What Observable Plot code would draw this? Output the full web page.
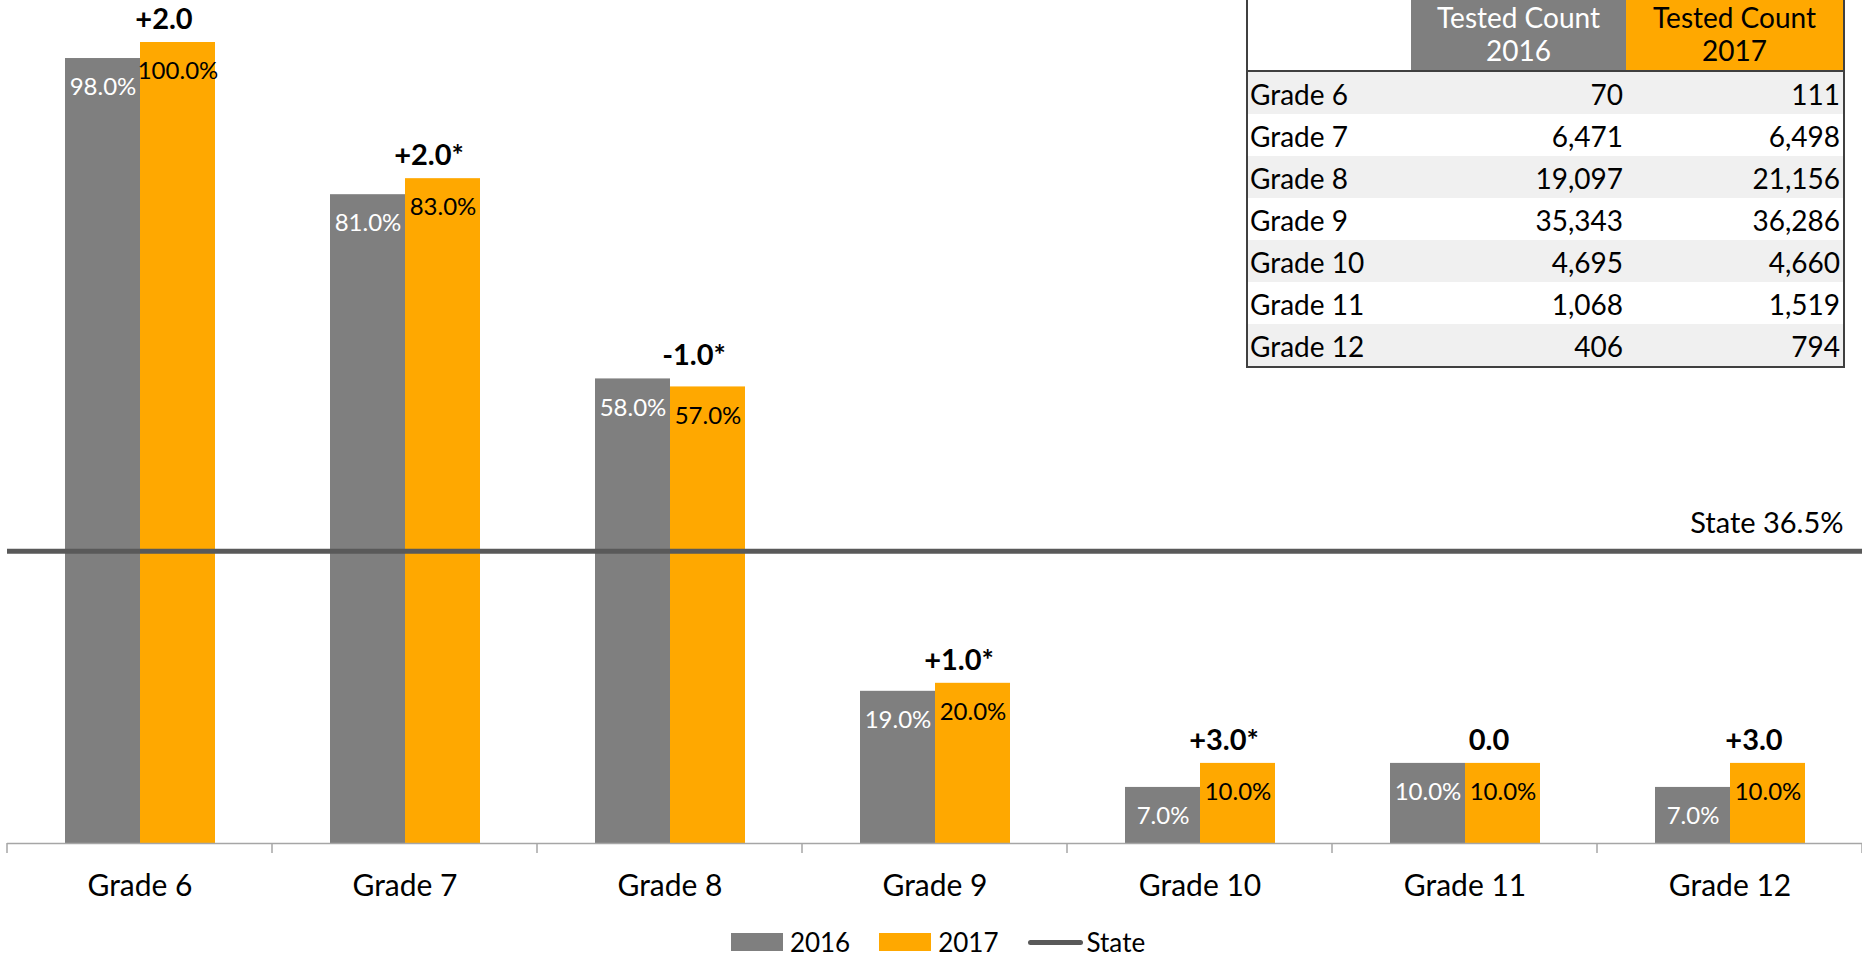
<!DOCTYPE html>
<html>
<head>
<meta charset="utf-8">
<script src="https://cdn.jsdelivr.net/npm/d3@7"></script>
<script src="https://cdn.jsdelivr.net/npm/@observablehq/plot@0.6"></script>
<style>
  html, body { margin: 0; padding: 0; background: #fff; }
  body { font-family: Lato, "Open Sans", sans-serif; color: #000; }
  #wrap { position: relative; width: 1862px; height: 960px; overflow: hidden; }
  #chart svg { display: block; }
  #tbl {
    position: absolute; left: 1246px; top: 0; width: 597px;
    border-collapse: collapse; table-layout: fixed;
    font-size: 28px; font-family: Lato, sans-serif;
    border-left: 2px solid #404040; border-right: 2px solid #404040; border-bottom: 2px solid #404040;
  }
  #tbl th { font-weight: normal; height: 71px; line-height: 33px; padding: 0 0 3px 0; vertical-align: middle; text-align: center; box-sizing: border-box; }
  #tbl tr.hd { border-bottom: 2px solid #404040; }
  #tbl th.h16 { background: #7f7f7f; color: #fff; }
  #tbl th.h17 { background: #ffa800; color: #000; }
  #tbl td { height: 42px; padding: 2px 0 0 0; line-height: 40px; vertical-align: top; white-space: nowrap; box-sizing: border-box; }
  #tbl td.lab { text-align: left; padding-left: 2px; }
  #tbl td.num { text-align: right; padding-right: 3px; }
  #tbl tr.stripe td { background: #f0f0f0; }
  #legend {
    position: absolute; top: 920px; left: 0; width: 1862px; height: 44px;
    display: flex; justify-content: center; align-items: center;
    font-size: 26px; font-family: Lato, sans-serif; padding-left: 14px; box-sizing: border-box;
  }
  .sw { display: inline-block; width: 52px; height: 18px; margin-right: 7px; }
  .ln { display: inline-block; width: 55px; height: 5px; border-radius: 3px; background: #595959; margin-right: 4px; }
  .item { display: flex; align-items: center; margin-right: 29px; }
  .item:last-child { margin-right: 0; }
</style>
</head>
<body>
<div id="wrap">
  <div id="chart"></div>
  <table id="tbl"></table>
  <div id="legend"></div>
</div>
<script>
// ---- data ----
const grades = ["Grade 6", "Grade 7", "Grade 8", "Grade 9", "Grade 10", "Grade 11", "Grade 12"];
const years = ["2016", "2017"];
const pct2016 = [98, 81, 58, 19, 7, 10, 7];
const pct2017 = [100, 83, 57, 20, 10, 10, 10];
const changeLabels = ["+2.0", "+2.0*", "-1.0*", "+1.0*", "+3.0*", "0.0", "+3.0"];
const stateValue = 36.5;
const stateLabel = "State";
const count2016 = [70, 6471, 19097, 35343, 4695, 1068, 406];
const count2017 = [111, 6498, 21156, 36286, 4660, 1519, 794];
const tableHeader = "Tested Count";

const yearColors = ["#7f7f7f", "#ffa800"];
const stateColor = "#595959";

// ---- derived tables ----
const rows = [];
grades.forEach((g, i) => {
  rows.push({grade: g, year: years[0], value: pct2016[i]});
  rows.push({grade: g, year: years[1], value: pct2017[i]});
});
const deltas = grades.map((g, i) => ({grade: g, label: changeLabels[i], top: Math.max(pct2016[i], pct2017[i])}));
const pctFmt = v => v.toFixed(1) + "%";

const plot = Plot.plot({
  width: 1862,
  height: 920,
  marginLeft: 7,
  marginRight: 0,
  marginTop: 42,
  marginBottom: 77,
  fx: {domain: grades, padding: 0, label: null},
  x: {domain: years, paddingInner: 0, paddingOuter: 0.755, axis: null},
  y: {domain: [0, 100], axis: null},
  color: {domain: years, range: yearColors},
  style: {fontFamily: "Lato, sans-serif", background: "transparent", overflow: "visible", color: "#000"},
  marks: [
    Plot.barY(rows, {fx: "grade", x: "year", y: "value", fill: "year"}),
    Plot.ruleY([0], {stroke: "#a6a6a6", strokeWidth: 1.5}),
    Plot.text(rows.filter(d => d.year === years[0]), {
      fx: "grade", x: "year", y: "value", text: d => pctFmt(d.value),
      fill: "#ffffff", dy: 29, fontSize: 24
    }),
    Plot.text(rows.filter(d => d.year === years[1]), {
      fx: "grade", x: "year", y: "value", text: d => pctFmt(d.value),
      fill: "#000000", dy: 29, fontSize: 24
    }),
    Plot.ruleY([stateValue], {stroke: stateColor, strokeWidth: 5}),
    Plot.text(deltas, {
      fx: "grade", x: () => years[1], y: "top", text: "label",
      dy: -23, dx: -14, fontWeight: "bold", fontSize: 29, fill: "#000"
    }),
    Plot.text([{grade: grades[grades.length - 1], v: stateValue}], {
      fx: "grade", y: "v", text: d => `${stateLabel} ${d.v}%`,
      frameAnchor: "right", textAnchor: "end", dx: -19, dy: -27, fontSize: 29, fill: "#000"
    }),
    Plot.axisFx({anchor: "bottom", tickSize: 0, tickPadding: 31, fontSize: 30, label: null, fill: "#000"})
  ]
});
document.getElementById("chart").appendChild(plot);

// category boundary ticks on the axis, from the library's fx and y scales
const fxs = plot.scale("fx");
const y0 = plot.scale("y").apply(0);
const bounds = grades.map(g => fxs.apply(g)).concat([fxs.apply(grades[grades.length - 1]) + fxs.bandwidth]);
d3.select(plot).append("g")
  .selectAll("line").data(bounds).join("line")
  .attr("x1", d => d).attr("x2", d => d)
  .attr("y1", y0).attr("y2", y0 + 10)
  .attr("stroke", "#a6a6a6").attr("stroke-width", 1.5);

// table
const fmt = d3.format(",");
let html = `<colgroup><col style="width:164px"><col style="width:215px"><col style="width:218px"></colgroup>`;
html += `<tr class="hd"><th></th><th class="h16">${tableHeader}<br>${years[0]}</th><th class="h17">${tableHeader}<br>${years[1]}</th></tr>`;
grades.forEach((g, i) => {
  html += `<tr class="${i % 2 === 0 ? "stripe" : ""}"><td class="lab">${g}</td><td class="num">${fmt(count2016[i])}</td><td class="num">${fmt(count2017[i])}</td></tr>`;
});
document.getElementById("tbl").innerHTML = html;

// legend
const legend = d3.select("#legend");
years.forEach((y, i) => {
  const it = legend.append("div").attr("class", "item");
  it.append("span").attr("class", "sw").style("background", yearColors[i]);
  it.append("span").text(y);
});
const st = legend.append("div").attr("class", "item");
st.append("span").attr("class", "ln");
st.append("span").text(stateLabel);
</script>
</body>
</html>
